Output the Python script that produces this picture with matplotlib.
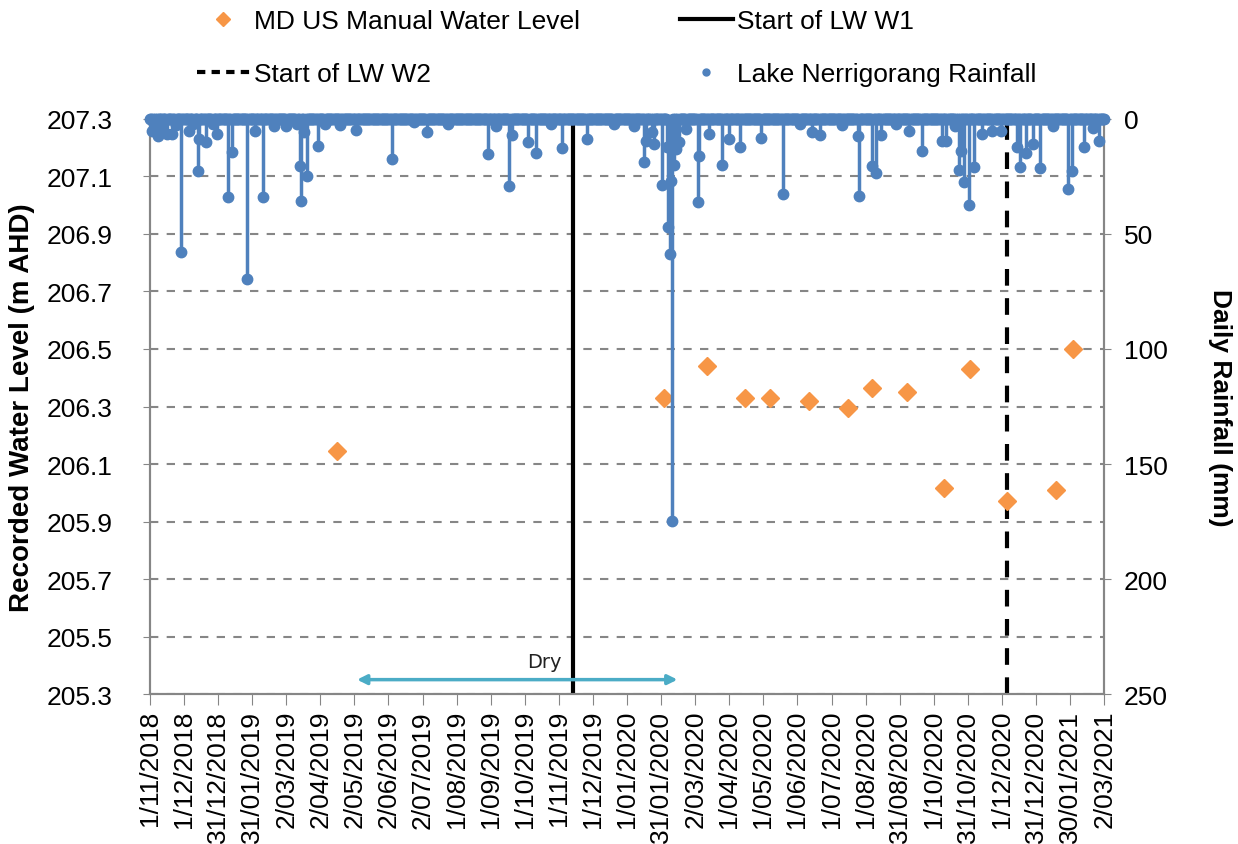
import numpy as np
import pandas as pd
import matplotlib
matplotlib.use('Agg')
import matplotlib.pyplot as plt
from matplotlib.lines import Line2D

plt.rcParams['font.family'] = ['Liberation Sans', 'DejaVu Sans']

# 水位观测 (m AHD)
level_dates = ['2019-04-17', '2020-02-03', '2020-03-12', '2020-04-15', '2020-05-08',
               '2020-06-11', '2020-07-16', '2020-08-07', '2020-09-07', '2020-10-10',
               '2020-11-02', '2020-12-05', '2021-01-18', '2021-02-02']
level_values = [206.145, 206.33, 206.44, 206.33, 206.33, 206.32, 206.295, 206.365,
                206.35, 206.017, 206.43, 205.97, 206.01, 206.5]

# 日降雨 (mm) - 只列出非零日
rain_dates = ['2018-11-03', '2018-11-05', '2018-11-08', '2018-11-12', '2018-11-16', '2018-11-21',
              '2018-11-24', '2018-11-29', '2018-12-06', '2018-12-10', '2018-12-14', '2018-12-15',
              '2018-12-21', '2018-12-27', '2018-12-31', '2019-01-10', '2019-01-13', '2019-01-27',
              '2019-02-03', '2019-02-10', '2019-02-20', '2019-03-03', '2019-03-12', '2019-03-15',
              '2019-03-16', '2019-03-19', '2019-03-21', '2019-03-31', '2019-04-06', '2019-04-20',
              '2019-05-04', '2019-06-05', '2019-06-25', '2019-07-06', '2019-07-25', '2019-08-30',
              '2019-09-06', '2019-09-18', '2019-09-20', '2019-10-05', '2019-10-12', '2019-10-25',
              '2019-11-04', '2019-11-26', '2019-12-20', '2020-01-07', '2020-01-16', '2020-01-18',
              '2020-01-23', '2020-01-25', '2020-02-01', '2020-02-06', '2020-02-07', '2020-02-08',
              '2020-02-09', '2020-02-10', '2020-02-12', '2020-02-14', '2020-02-16', '2020-02-23',
              '2020-03-04', '2020-03-05', '2020-03-14', '2020-03-26', '2020-04-01', '2020-04-11',
              '2020-04-30', '2020-05-19', '2020-06-03', '2020-06-14', '2020-06-21', '2020-07-11',
              '2020-07-25', '2020-07-26', '2020-08-07', '2020-08-10', '2020-08-15', '2020-08-28',
              '2020-09-09', '2020-09-20', '2020-10-08', '2020-10-12', '2020-10-20', '2020-10-23',
              '2020-10-25', '2020-10-28', '2020-11-01', '2020-11-06', '2020-11-13', '2020-11-22',
              '2020-11-30', '2020-12-14', '2020-12-17', '2020-12-22', '2020-12-28', '2021-01-04',
              '2021-01-15', '2021-01-29', '2021-02-01', '2021-02-12', '2021-02-20', '2021-02-25']
rain_values = [5.2, 2.0, 7.4, 3.0, 6.5, 6.5,
               2.5, 57.8, 5.2, 2.0, 22.6, 8.7,
               10.0, 2.0, 6.5, 34.0, 14.3, 69.6,
               5.2, 34.0, 3.0, 3.0, 2.0, 20.4,
               35.6, 5.7, 24.8, 11.7, 2.0, 2.5,
               4.8, 17.4, 1.5, 5.7, 2.0, 15.2,
               3.0, 29.0, 7.0, 10.0, 14.8, 2.0,
               12.6, 8.7, 2.0, 3.0, 18.7, 9.6,
               5.7, 10.9, 28.7, 12.0, 47.0, 58.7,
               27.0, 174.8, 20.0, 13.0, 10.0, 4.3,
               36.0, 16.0, 6.5, 20.0, 8.7, 12.2,
               8.3, 32.6, 2.0, 5.7, 7.0, 2.5,
               7.4, 33.5, 20.4, 23.5, 7.0, 2.0,
               5.2, 14.0, 9.6, 9.6, 3.0, 22.0,
               14.0, 27.4, 37.4, 21.0, 6.5, 5.2,
               5.2, 12.2, 21.0, 15.0, 11.0, 21.4,
               3.0, 30.4, 22.6, 12.2, 4.0, 9.6]

x_tick_labels = ['1/11/2018', '1/12/2018', '31/12/2018', '31/01/2019', '2/03/2019', '2/04/2019',
                 '2/05/2019', '2/06/2019', '2/07/2019', '1/08/2019', '1/09/2019', '1/10/2019',
                 '1/11/2019', '1/12/2019', '1/01/2020', '31/01/2020', '2/03/2020', '1/04/2020',
                 '1/05/2020', '1/06/2020', '1/07/2020', '1/08/2020', '31/08/2020', '1/10/2020',
                 '31/10/2020', '1/12/2020', '31/12/2020', '30/01/2021', '2/03/2021']

start_w1 = '2019-11-14'
start_w2 = '2020-12-05'
dry_start, dry_end = '2019-05-05', '2020-02-15'

# 每天一个点, 无雨日为 0
days = pd.date_range('2018-11-01', '2021-03-02', freq='D')
rain = pd.Series(0.0, index=days)
rain.loc[pd.to_datetime(rain_dates)] = rain_values

blue = '#4F81BD'
orange = '#F79646'

fig = plt.figure(figsize=(12.38, 8.45), dpi=100)
ax = fig.add_axes([0.121, 0.1775, 0.771, 0.6805])
ax2 = ax.twinx()

xmin, xmax = pd.Timestamp('2018-11-01'), pd.Timestamp('2021-03-02')

ax.plot(pd.to_datetime(level_dates), level_values, 'D', color=orange, ms=9, zorder=3)
ax.axvline(pd.Timestamp(start_w1), color='black', lw=3, zorder=2)
ax.axvline(pd.Timestamp(start_w2), color='black', lw=3, ls=(0, (4, 3)), zorder=2)

ax.annotate('', xy=(pd.Timestamp(dry_start), 205.35), xytext=(pd.Timestamp(dry_end), 205.35),
            arrowprops=dict(arrowstyle='<|-|>', color='#4BACC6', lw=2.5, mutation_scale=14,
                            shrinkA=0, shrinkB=0))
ax.text(pd.Timestamp('2019-10-19'), 205.38, 'Dry', fontsize=14, family='DejaVu Sans',
        ha='center', va='bottom', color='#222222')

ax.set_ylim(205.3, 207.3)
ax.set_yticks(np.arange(205.3, 207.31, 0.2))
ax.set_yticklabels([f'{v:.1f}' for v in np.arange(205.3, 207.31, 0.2)])
ax.yaxis.grid(True, color='#868686', lw=1.5, ls=(0, (4, 4)))
ax.set_axisbelow(True)
ax.set_xlim(xmin, xmax)
tick_pos = pd.date_range(xmin, xmax, periods=len(x_tick_labels))
ax.set_xticks(tick_pos)
ax.set_xticklabels(x_tick_labels, rotation=90, fontsize=19)
ax.tick_params(axis='y', labelsize=19, length=5, pad=22, color='#868686')
ax.tick_params(axis='x', length=8, color='#868686')
ax.set_ylabel('Recorded Water Level (m AHD)', fontsize=20, fontweight='bold', labelpad=8)

ax2.vlines(rain.index, 0, rain.values, color=blue, lw=2.5, zorder=3)
ax2.plot(rain.index, rain.values, 'o', color=blue, ms=7.5, clip_on=False, zorder=4)
ax2.set_ylim(250, 0)
ax2.set_yticks([0, 50, 100, 150, 200, 250])
ax2.tick_params(axis='y', labelsize=19, length=5, pad=9, color='#868686')
ax2.set_ylabel('Daily Rainfall (mm)', fontsize=19, fontweight='bold', rotation=270, labelpad=46)
ax2.set_xlim(xmin, xmax)

for a in (ax, ax2):
    a.spines['top'].set_visible(False)
    for s in ('left', 'right', 'bottom'):
        a.spines[s].set_color('#868686')
        a.spines[s].set_linewidth(1.5)

handles = [
    Line2D([], [], marker='D', color=orange, ls='none', ms=7),
    Line2D([], [], color='black', lw=3, ls=(0, (2, 1.5))),
    Line2D([], [], color='black', lw=3),
    Line2D([], [], marker='o', color=blue, ls='none', ms=5),
]
labels = ['MD US Manual Water Level', 'Start of LW W2', 'Start of LW W1', 'Lake Nerrigorang Rainfall']
fig.legend(handles, labels, ncol=2, loc='upper left', bbox_to_anchor=(0.142, 1.013),
           frameon=False, fontsize=19, handlelength=2, handletextpad=0.15,
           columnspacing=3.8, labelspacing=1.1, borderpad=0.3)

fig.savefig('out.png', dpi=100)
